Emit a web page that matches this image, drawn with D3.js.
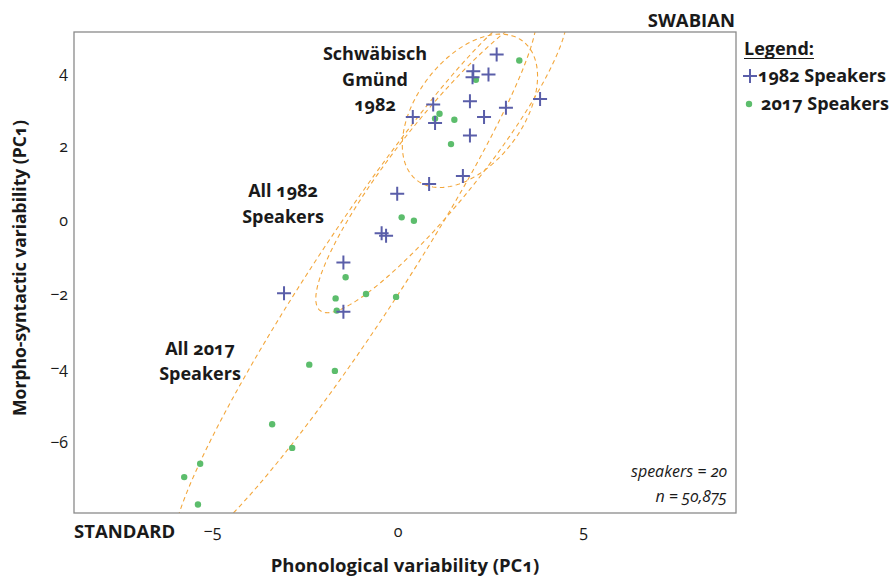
<!DOCTYPE html>
<html>
<head>
<meta charset="utf-8">
<script src="https://cdn.jsdelivr.net/npm/d3@7"></script>
<style>
  body { margin: 0; background: #fff; }
  svg { font-family: "Open Sans", sans-serif; font-feature-settings: "onum" 1; }
</style>
</head>
<body>
<svg id="chart" width="892" height="579"></svg>
<script>
// PCA scores per speaker (phonological PC1, morpho-syntactic PC1)
const speakers1982X = [2.67, 2.04, 2.02, 2.45, 3.84, 0.96, 1.95, 2.92, 0.41, 1.01, 2.33, 1.95, 1.76, 0.85, -0.01, -0.43, -0.31, -1.46, -3.06, -1.46];
const speakers1982Y = [4.47, 4.02, 3.86, 3.93, 3.27, 3.12, 3.21, 3.03, 2.78, 2.62, 2.78, 2.28, 1.19, 0.97, 0.71, -0.36, -0.43, -1.15, -1.98, -2.48];
const speakers2017X = [3.28, 2.11, 1.13, 1.01, 1.53, 1.44, 0.11, 0.44, -1.40, -1.67, -0.85, -0.04, -1.64, -2.38, -1.69, -3.38, -2.84, -5.32, -5.75, -5.38];
const speakers2017Y = [4.31, 3.79, 2.87, 2.74, 2.71, 2.05, 0.07, -0.02, -1.55, -2.12, -2.00, -2.08, -2.45, -3.91, -4.08, -5.52, -6.16, -6.59, -6.95, -7.69];

const xTicks = [-5, 0, 5];
const yTicks = [-6, -4, -2, 0, 2, 4];

// Confidence ellipses: centre, semi-axes and rotation (degrees)
const ellipseNames = ["All 2017 Speakers", "All 1982 Speakers", "Schwäbisch Gmünd 1982"];
const ellipseCx = [-1.15, 1.18, 1.95];
const ellipseCy = [-1.64, 1.66, 2.95];
const ellipseA = [8.75, 5.25, 2.36];
const ellipseB = [1.18, 1.12, 1.43];
const ellipseAngle = [56.8, 51.5, 53];

const svg = d3.select("#chart");
const panel = { left: 74, right: 736, top: 32, bottom: 513 };

const x = d3.scaleLinear().domain([-8.72, 9.12]).range([panel.left, panel.right]);
const y = d3.scaleLinear().domain([-7.92, 5.08]).range([panel.bottom, panel.top]);

const colPlus = "#5a5ea9";
const colDot = "#5cbd6c";
const colEllipse = "#f3a73c";
const ink = "#1a1a1a";

svg.append("defs").append("clipPath").attr("id", "panelClip")
  .append("rect")
  .attr("x", panel.left).attr("y", panel.top)
  .attr("width", panel.right - panel.left).attr("height", panel.bottom - panel.top);

// axes (labels only, no tick marks)
const xAxis = svg.append("g")
  .attr("transform", `translate(0,${panel.bottom})`)
  .call(d3.axisBottom(x).tickValues(xTicks).tickSize(0).tickPadding(13));
const yAxis = svg.append("g")
  .attr("transform", `translate(${panel.left},0)`)
  .call(d3.axisLeft(y).tickValues(yTicks).tickSize(0).tickPadding(6));
[xAxis, yAxis].forEach(g => {
  g.select(".domain").remove();
  g.selectAll("text").attr("font-size", 16).attr("fill", ink)
    .attr("font-family", "\"Open Sans\", sans-serif");
});

// ellipses
const ellipseData = ellipseNames.map((n, i) => {
  const th = ellipseAngle[i] * Math.PI / 180;
  return d3.range(0, 361, 2).map(d => {
    const t = d * Math.PI / 180;
    return [
      ellipseCx[i] + ellipseA[i] * Math.cos(th) * Math.cos(t) - ellipseB[i] * Math.sin(th) * Math.sin(t),
      ellipseCy[i] + ellipseA[i] * Math.sin(th) * Math.cos(t) + ellipseB[i] * Math.cos(th) * Math.sin(t)
    ];
  });
});
const line = d3.line().x(d => x(d[0])).y(d => y(d[1])).curve(d3.curveLinearClosed);
svg.append("g").attr("clip-path", "url(#panelClip)")
  .selectAll("path").data(ellipseData).join("path")
  .attr("d", line)
  .attr("fill", "none")
  .attr("stroke", colEllipse)
  .attr("stroke-width", 1.1)
  .attr("stroke-dasharray", "4.5,3.5");

// 2017 speakers
svg.append("g").selectAll("circle").data(speakers2017X).join("circle")
  .attr("cx", (d, i) => x(d))
  .attr("cy", (d, i) => y(speakers2017Y[i]))
  .attr("r", 3.2)
  .attr("fill", colDot);

// 1982 speakers
const plusPath = "M-7,0H7M0,-7V7";
svg.append("g").selectAll("path").data(speakers1982X).join("path")
  .attr("transform", (d, i) => `translate(${x(d)},${y(speakers1982Y[i])})`)
  .attr("d", plusPath)
  .attr("fill", "none")
  .attr("stroke", colPlus)
  .attr("stroke-width", 2);

// panel frame
svg.append("rect")
  .attr("x", panel.left).attr("y", panel.top)
  .attr("width", panel.right - panel.left).attr("height", panel.bottom - panel.top)
  .attr("fill", "none").attr("stroke", "#8a8a8a").attr("stroke-width", 1.3);

// text helpers
function label(txt, px, py, opts = {}) {
  return svg.append("text")
    .attr("x", px).attr("y", py)
    .attr("text-anchor", opts.anchor || "middle")
    .attr("font-size", opts.size || 18)
    .attr("font-weight", opts.weight || 700)
    .attr("font-style", opts.style || "normal")
    .attr("fill", ink)
    .text(txt);
}

// group annotations
label("Schwäbisch", 375, 60);
label("Gmünd", 375, 86);
label("1982", 375, 111);
label("All 1982", 283, 197);
label("Speakers", 283, 223);
label("All 2017", 200, 355);
label("Speakers", 200, 380);

// poles
label("SWABIAN", 735, 27, { anchor: "end", size: 18.5 });
label("STANDARD", 74, 538, { anchor: "start", size: 18.5 });

// axis titles
label("Phonological variability (PC1)", 405, 572, { size: 18.5 });
svg.append("text")
  .attr("transform", "translate(26,268) rotate(-90)")
  .attr("text-anchor", "middle")
  .attr("font-size", 17.5).attr("font-weight", 700).attr("fill", ink)
  .text("Morpho-syntactic variability (PC1)");

// sample notes
label("speakers = 20", 727, 477, { anchor: "end", size: 16, weight: 400, style: "italic" });
label("n = 50,875", 727, 502, { anchor: "end", size: 16, weight: 400, style: "italic" });

// legend
const lg = label("Legend:", 744, 55, { anchor: "start", size: 18 });
const lgw = lg.node().getComputedTextLength();
svg.append("line").attr("x1", 744).attr("x2", 744 + lgw).attr("y1", 58.5).attr("y2", 58.5)
  .attr("stroke", ink).attr("stroke-width", 1);
svg.append("path").attr("transform", "translate(750,76)").attr("d", plusPath)
  .attr("fill", "none").attr("stroke", colPlus).attr("stroke-width", 2);
label("1982 Speakers", 758, 82, { anchor: "start", size: 18 });
svg.append("circle").attr("cx", 749).attr("cy", 104).attr("r", 3.2).attr("fill", colDot);
label("2017 Speakers", 761, 110, { anchor: "start", size: 18 });
</script>
</body>
</html>
